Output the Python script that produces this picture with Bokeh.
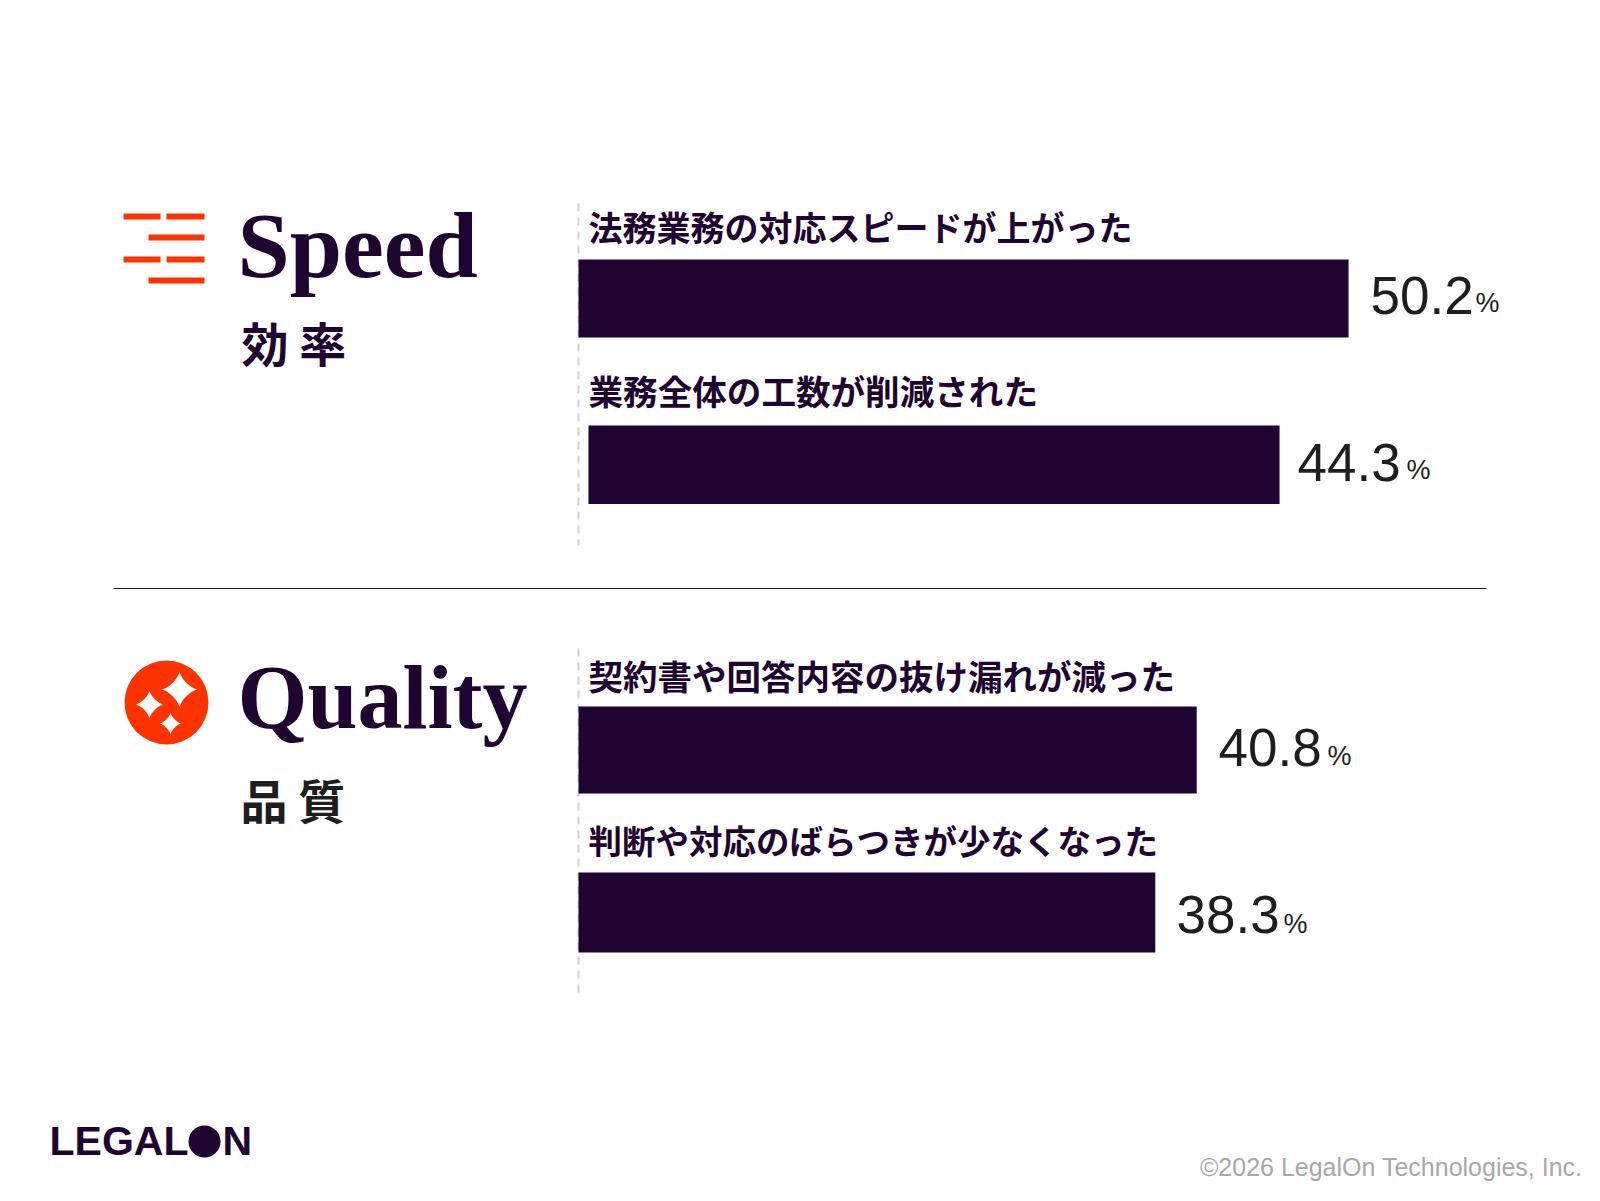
import math
from bokeh.plotting import figure
from bokeh.models import Range1d
from bokeh.core.properties import value
from bokeh.embed import file_html
from bokeh.resources import INLINE

# ---- data ----
categories = ["法務業務の対応スピードが上がった", "業務全体の工数が削減された",
              "契約書や回答内容の抜け漏れが減った", "判断や対応のばらつきが少なくなった"]
value_labels = ["50.2", "44.3", "40.8", "38.3"]
bar_starts = [0.0, 0.65, 0.0, 0.0]      # bars as drawn in the reference, in percent
bar_ends = [50.2, 45.7, 40.3, 37.6]
sections = ["Speed", "Quality"]
sections_ja = ["効 率", "品 質"]
copyright_text = "©2026 LegalOn Technologies, Inc."

# ---- layout (page pixels) ----
W, H = 1584, 1185
PX_PER_PCT = 15.34
BASE_X = 578
bar_top = [259, 425, 706, 872]
bar_bottom = [337, 503.5, 793, 952]
cat_y = [226, 389, 674, 839]
cat_size = ["34px", "34.6px", "34.5px", "33.5px"]
val_x = [1370, 1297, 1218, 1176]
val_base = [315, 482, 767, 934]
pct_x = [1475, 1406, 1327, 1283]
DARK = "#1f0330"
INK = "#1e1e1e"
ORANGE = "#ff3300"

def base(y, size):
    return y - 0.38 * size

p = figure(width=W, height=H, output_backend="svg", toolbar_location=None,
           x_range=Range1d(-BASE_X / PX_PER_PCT, (W - BASE_X) / PX_PER_PCT),
           y_range=Range1d(H, 0), min_border=0, background_fill_color="white")
p.extra_x_ranges = {"px": Range1d(0, W)}
p.axis.visible = False
p.grid.visible = False
p.outline_line_color = None

# dashed baselines, divider
for y0, y1 in [(203, 545), (648, 992)]:
    p.line([BASE_X, BASE_X], [y0, y1], x_range_name="px", line_color="#d0d0d0", line_width=2, line_dash="8 6")
p.line([113, 1486], [588, 588], x_range_name="px", line_color="#1e1e1e", line_width=1)

# bars
p.quad(left=bar_starts, right=bar_ends, top=bar_top, bottom=bar_bottom, fill_color=DARK, line_color=None)

# category labels
p.text(x=[588] * 4, y=cat_y, text=categories, x_range_name="px", text_font=value("Noto Sans CJK JP"),
       text_font_style="bold", text_font_size=cat_size, text_color=DARK,
       text_align="left", text_baseline="middle")

# values
p.text(x=val_x, y=[base(v, 53) for v in val_base], text=value_labels, x_range_name="px",
       text_font=value("Liberation Sans"),
       text_font_size="53px", text_color=INK, text_align="left", text_baseline="alphabetic")
p.text(x=pct_x, y=[base(v, 27) for v in [313, 480, 766, 934]], text=["%"] * 4, x_range_name="px",
       text_font=value("Liberation Sans"),
       text_font_size="27px", text_color=INK, text_align="left", text_baseline="alphabetic")

# section headings
p.text(x=[237], y=[base(280, 94)], text=[sections[0]], x_range_name="px",
       text_font=value("Liberation Serif"), text_font_style="bold",
       text_font_size="94px", text_color=DARK, text_align="left", text_baseline="alphabetic")
p.text(x=[237], y=[base(731, 90)], text=[sections[1]], x_range_name="px",
       text_font=value("Liberation Serif"), text_font_style="bold",
       text_font_size="90px", text_color=DARK, text_align="left", text_baseline="alphabetic")
p.text(x=[241], y=[base(359, 47)], text=[sections_ja[0]], x_range_name="px", text_font=value("Noto Sans CJK JP"),
       text_font_style="bold", text_font_size="47px", text_color=DARK, text_align="left", text_baseline="alphabetic")
p.text(x=[240], y=[base(816, 47)], text=[sections_ja[1]], x_range_name="px", text_font=value("Noto Sans CJK JP"),
       text_font_style="bold", text_font_size="47px", text_color=INK, text_align="left", text_baseline="alphabetic")

# speed icon
p.quad(left=[123, 166, 148, 123, 166, 148], right=[160, 204, 204, 160, 204, 204],
       top=[213, 213, 234, 256, 256, 277], bottom=[219, 219, 240, 262, 262, 283],
       x_range_name="px", fill_color=ORANGE, line_color=None)

# quality icon
p.circle(x=[166], y=[702], radius=42, x_range_name="px", fill_color=ORANGE, line_color=None)
def sparkle(cx, cy, r):
    xs, ys = [], []
    for i in range(72):
        t = 2 * math.pi * i / 72
        c, s = math.cos(t), math.sin(t)
        e = 2.8
        xs.append(cx + r * math.copysign(abs(c) ** e, c))
        ys.append(cy + r * math.copysign(abs(s) ** e, s))
    return xs, ys
stars = [sparkle(179, 689, 18), sparkle(149, 704, 14), sparkle(170, 723, 11)]
p.patches([s[0] for s in stars], [s[1] for s in stars], x_range_name="px", fill_color="white", line_color=None)

# logo
p.text(x=[49], y=[base(1156, 41)], text=["LEGAL"], x_range_name="px", text_font=value("Liberation Sans"),
       text_font_style="bold", text_font_size="41px", text_color=DARK, text_align="left", text_baseline="alphabetic")
p.circle(x=[204], y=[1141], radius=16, x_range_name="px", fill_color=DARK, line_color=None)
p.text(x=[222], y=[base(1156, 41)], text=["N"], x_range_name="px", text_font=value("Liberation Sans"),
       text_font_style="bold", text_font_size="41px", text_color=DARK, text_align="left", text_baseline="alphabetic")

# copyright
p.text(x=[1582], y=[base(1176, 25)], text=[copyright_text], x_range_name="px", text_font=value("Liberation Sans"),
       text_font_size="25px", text_color="#a8a8a8", text_align="right", text_baseline="alphabetic")

open("out.html", "w").write(file_html(p, INLINE))
